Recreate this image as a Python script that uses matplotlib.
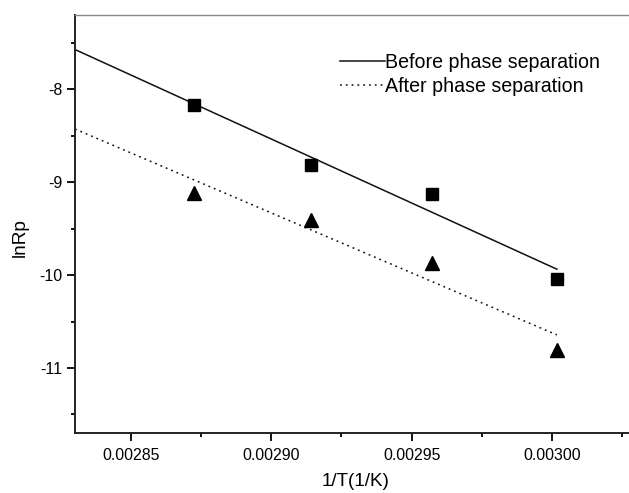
import numpy as np
import matplotlib
matplotlib.use("Agg")
import matplotlib.pyplot as plt
from matplotlib.ticker import MultipleLocator, FormatStrFormatter

plt.rcParams['font.family'] = ['Liberation Sans', 'DejaVu Sans']
plt.rcParams['axes.unicode_minus'] = False

# Arrhenius data: inverse temperature vs ln of rate
inv_T = [0.0028724, 0.0029143, 0.0029574, 0.0030018]
lnRp_before = [-8.17, -8.81, -9.13, -10.04]
lnRp_after = [-9.115, -9.41, -9.87, -10.81]
series_labels = ["Before phase separation", "After phase separation"]

x_min, x_max = 0.00283, 0.00303
y_min, y_max = -11.7, -7.2

fig = plt.figure(figsize=(6.29, 4.93), dpi=100)
# axes extends a little past the right edge of the canvas
ax = fig.add_axes([75 / 629, 1 - 433 / 493, (636 - 75) / 629, (433 - 15) / 493])

x = np.array(inv_T)
fit_x = np.array([x_min, x.max()])
styles = ['-', (0, (1.2, 2.6))]
for y, ls, lab in zip((lnRp_before, lnRp_after), styles, series_labels):
    k, b = np.polyfit(x, np.array(y), 1)
    ax.plot(fit_x, k * fit_x + b, color='#111111', lw=1.1, ls=ls, label=lab)

ax.plot(inv_T, lnRp_before, 's', color='black', ms=8.5, ls='none')
ax.plot(inv_T, lnRp_after, '^', color='black', ms=10, ls='none')

ax.set_xlim(x_min, x_max)
ax.set_ylim(y_min, y_max)
ax.xaxis.set_major_locator(MultipleLocator(0.00005))
ax.xaxis.set_minor_locator(MultipleLocator(0.000025))
ax.xaxis.set_major_formatter(FormatStrFormatter('%.5f'))
ax.yaxis.set_major_locator(MultipleLocator(1))
ax.yaxis.set_minor_locator(MultipleLocator(0.5))
ax.tick_params(which='major', direction='out', length=6, width=1.3, labelsize=11.4, pad=3)
ax.tick_params(which='minor', direction='out', length=3, width=1.3)
ax.tick_params(axis='x', which='major', pad=5)

for side in ('left', 'bottom'):
    ax.spines[side].set_linewidth(1.4)
    ax.spines[side].set_color('#222222')
ax.spines['top'].set_color('#888888')
ax.spines['top'].set_linewidth(1.0)
ax.spines['right'].set_visible(False)

ax.set_xlabel('1/T(1/K)', fontsize=13.6)
ax.set_ylabel('lnRp', fontsize=13.7)
ax.xaxis.set_label_coords((356 - 75) / (636 - 75), -0.096)
ax.yaxis.set_label_coords(-0.082, 0.467)

ax.legend(loc='upper left', bbox_to_anchor=((340 - 75) / (636 - 75), 1 - (53 - 15) / 418),
          frameon=False, fontsize=14.1, handlelength=2.3, handletextpad=0.0,
          labelspacing=0.25, borderaxespad=0, borderpad=0)

fig.savefig('out.png', dpi=100)
